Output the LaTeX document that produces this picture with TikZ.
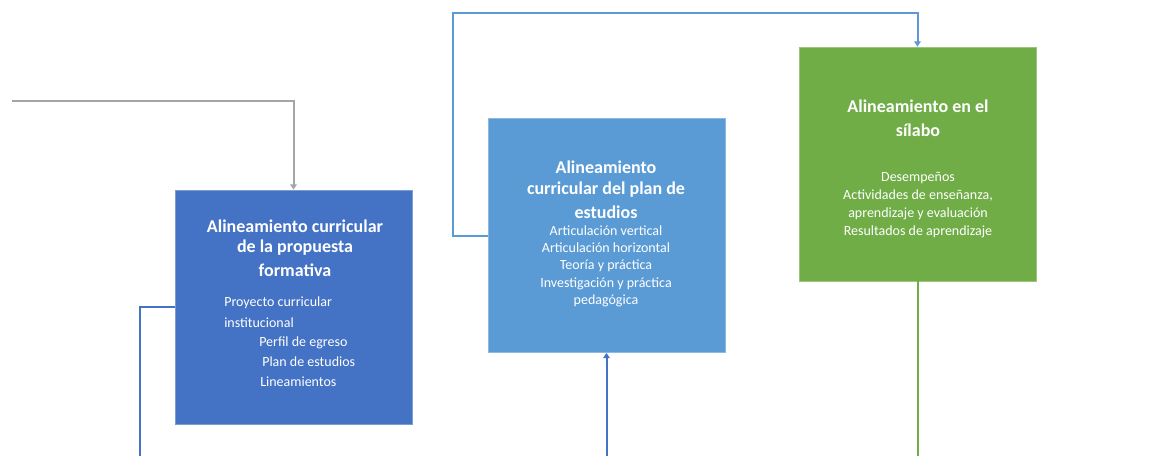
\documentclass[tikz,border=0pt]{standalone}
\usepackage{fontspec}
\setmainfont{Carlito}
\usetikzlibrary{arrows.meta}
\definecolor{cdark}{HTML}{4472C4}
\definecolor{clight}{HTML}{5B9BD5}
\definecolor{cgreen}{HTML}{70AD47}
\definecolor{cgray}{HTML}{A5A5A5}
\tikzset{
  boxbase/.style={draw, line width=0.6pt, minimum width=177.75pt, minimum height=175.5pt, inner sep=0pt},
  boxdark/.style={boxbase, fill=cdark, draw=cdark!70!white},
  boxlight/.style={boxbase, fill=clight, draw=clight!70!white},
  boxgreen/.style={boxbase, fill=cgreen, draw=cgreen!70!white},
  ttl/.style={text=white, font=\bfseries\fontsize{13.5}{17}\selectfont, inner sep=0pt},
  bdy/.style={text=white, font=\fontsize{10.5}{13}\selectfont, inner sep=0pt},
  conn/.style={line width=1.5pt},
  tip/.style={-{Triangle[length=4pt,width=5pt]}},
}
\begin{document}
\begin{tikzpicture}[x=0.75pt,y=-0.75pt]
\useasboundingbox (0,0) rectangle (1171,456);
% boxes
\node[boxdark]  (b1) at (293.5,307) {};
\node[boxlight] (b2) at (606.5,235.5) {};
\node[boxgreen] (b3) at (917.5,164) {};
% box 1 text
\node[ttl] (t1a) at (295,226) {Alineamiento curricular};
\node[ttl] (t1b) at (295,248) {de la propuesta};
\node[ttl] (t1c) at (295,270) {formativa};
\node[bdy,anchor=west] (l1a) at (224,303) {Proyecto curricular};
\node[bdy,anchor=west] (l1b) at (224,323) {institucional};
\node[bdy,anchor=west] (l1c) at (259,343) {Perfil de egreso};
\node[bdy,anchor=west] (l1d) at (262,362) {Plan de estudios};
\node[bdy,anchor=west] (l1e) at (260,382) {Lineamientos};
% box 2 text
\node[ttl] (t2a) at (606,167) {Alineamiento};
\node[ttl] (t2b) at (606,190) {curricular del plan de};
\node[ttl] (t2c) at (606,212) {estudios};
\node[bdy] (l2a) at (606,231) {Articulación vertical};
\node[bdy] (l2b) at (606,248) {Articulación horizontal};
\node[bdy] (l2c) at (606,266) {Teoría y práctica};
\node[bdy] (l2d) at (606,284) {Investigación y práctica};
\node[bdy] (l2e) at (606,301) {pedagógica};
% box 3 text
\node[ttl] (t3a) at (918,106) {Alineamiento en el};
\node[ttl] (t3b) at (918,130) {sílabo};
\node[bdy] (l3a) at (918,178) {Desempeños};
\node[bdy] (l3b) at (918,196) {Actividades de enseñanza,};
\node[bdy] (l3c) at (918,214) {aprendizaje y evaluación};
\node[bdy] (l3d) at (918,232) {Resultados de aprendizaje};
% free ends
\coordinate (g0) at (12,101);
\coordinate (top) at (453,13);
\coordinate (e1) at (140,456);
\coordinate (e2) at (606.5,456);
\coordinate (e3) at (917.5,456);
% connectors
\draw[conn, cgray, tip] (g0) -| (b1.north);
\draw[conn, clight, tip] (b2.west) -- ++(-35,0) |- (top) -| (b3.north);
\draw[conn, cdark] (b1.west) -- ++(-35,0) |- (e1);
\draw[conn, cdark, tip] (e2) -- (b2.south);
\draw[conn, cgreen] (b3.south) -- (e3);
\end{tikzpicture}
\end{document}
